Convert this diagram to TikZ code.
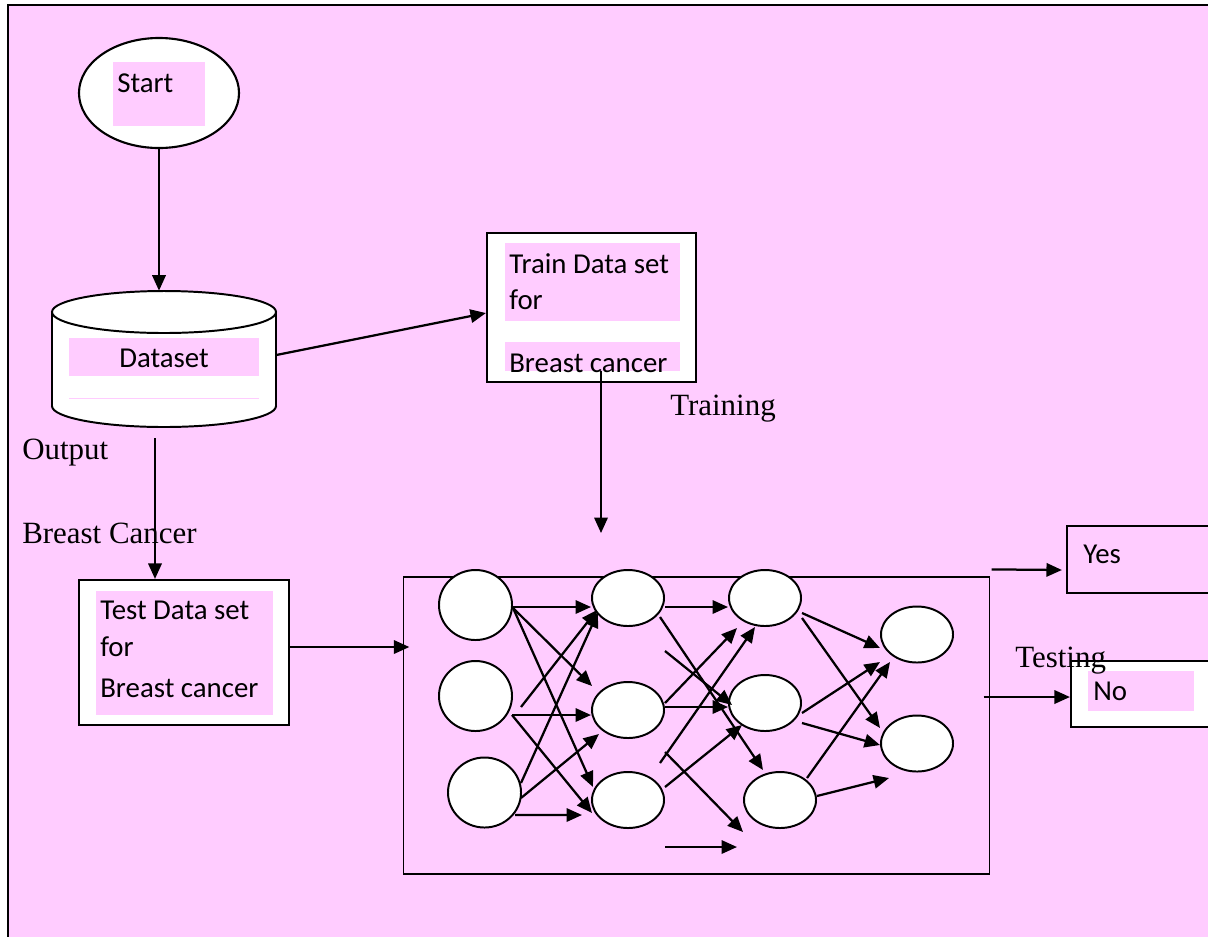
\documentclass[tikz,border=0pt]{standalone}
\usepackage{fontspec}
\setmainfont{Liberation Serif}
\newfontfamily\calfont{Carlito}
\usetikzlibrary{shapes.geometric,calc,arrows.meta,positioning}
\definecolor{pinkbg}{HTML}{FFCCFF}

\begin{document}
\begin{tikzpicture}[
    x=0.025cm, y=-0.025cm,
    >={Triangle[length=11pt,width=9.5pt]},
    conn/.style={->, line width=1.6pt},
    box/.style={draw, fill=white, line width=1.5pt, inner sep=0pt},
    blob/.style={draw, fill=white, line width=1.4pt, ellipse, inner sep=0pt,
        minimum width=1.8cm, minimum height=1.4cm},
    inblob/.style={blob, minimum width=1.825cm, minimum height=1.75cm},
    sans/.style={font=\calfont\fontsize{20.5}{24}\selectfont, anchor=base west, inner sep=0pt},
    serif/.style={font=\fontsize{22}{26}\selectfont, anchor=base west, inner sep=0pt}
]

% fond
\useasboundingbox (0,0) rectangle (1208,936);
\clip (0,0) rectangle (1208,936);
\fill[pinkbg] (8,5) rectangle (1210,938);
\draw[line width=1.3pt] (8,938) -- (8,5) -- (1210,5);

% start
\node[box, ellipse, minimum width=4cm, minimum height=2.75cm] (start) at (159,93) {};
\fill[pinkbg] (113,62) rectangle (205,126);
\node[sans] (tstart) at (117,92) {Start};

% dataset (cylindre)
\node[minimum width=5.6cm, minimum height=3.4cm, inner sep=0pt] (dataset) at (164,359) {};
\fill[white] (52,312) rectangle (276,406);
\fill[white] (164,406) ellipse [x radius=112, y radius=21];
\begin{scope}
  \clip (40,406) rectangle (290,440);
  \draw[line width=1.4pt] (164,406) ellipse [x radius=112, y radius=21];
\end{scope}
\draw[line width=1.4pt] (52,312) -- (52,406) (276,312) -- (276,406);
\draw[line width=1.4pt, fill=white] (164,312) ellipse [x radius=112, y radius=21];
\fill[pinkbg] (69,338) rectangle (259,376);
\draw[pinkbg, line width=0.6pt] (69,398) -- (259,398);
\node[sans] (tdata) at (119,367) {Dataset};

% train
\node[box, minimum width=5.225cm, minimum height=3.725cm] (train) at (591.5,307.5) {};
\fill[pinkbg] (505,243) rectangle (680,321);
\fill[pinkbg] (505,342) rectangle (680,371);
\node[sans] (ttrain1) at (509,273) {Train Data set};
\node[sans] (ttrain2) at (509,309) {for};
\node[sans] (ttrain3) at (509,372) {Breast cancer};

% test
\node[box, minimum width=5.25cm, minimum height=3.625cm] (test) at (184,652.5) {};
\fill[pinkbg] (96,591) rectangle (273,715);
\node[sans] (ttest1) at (100,619) {Test Data set};
\node[sans] (ttest2) at (100,656) {for};
\node[sans] (ttest3) at (100,697) {Breast cancer};

% labels
\node[serif] (output) at (22,459) {Output};
\node[serif] (bcancer) at (22,543) {Breast Cancer};
\node[serif] (training) at (670,415) {Training};

% reseau
\node[draw, line width=0.8pt, minimum width=14.625cm, minimum height=7.425cm, inner sep=0pt] (nnbox) at (696.5,725.5) {};
\node[inblob] (n11) at (475.5,605) {};
\node[inblob] (n12) at (475.5,696) {};
\node[inblob] (n13) at (484.5,792.5) {};
\node[blob] (n21) at (628,598) {};
\node[blob] (n22) at (628,710) {};
\node[blob] (n23) at (628,800) {};
\node[blob] (n31) at (765,598) {};
\node[blob] (n32) at (765,703) {};
\node[blob] (n33) at (780,800) {};
\node[blob] (n41) at (917,634.5) {};
\node[blob] (n42) at (917,743.5) {};

% sorties
\node[draw, line width=1.5pt, minimum width=4cm, minimum height=1.675cm, inner sep=0pt] (yes) at (1147,559.5) {};
\node[sans] (tyes) at (1083,563) {Yes};
\node[box, minimum width=3.975cm, minimum height=1.65cm] (no) at (1150.5,694) {};
\fill[pinkbg] (1088,671) rectangle (1194,711);
\node[sans] (tno) at (1093,700) {No};
\node[serif] (testing) at (1015,667) {Testing};

% flèches principales
\draw[conn] (start.south) -- (start.south |- dataset.north);
\draw[conn] ($(dataset.east)+(0,-4)$) -- (train.183);
\draw[conn] ($(train.south)+(9.5,-12)$) -- ($(train.south)+(9.5,150)$);
\draw[conn] ($(dataset.south)+(-9,11)$) -- ($(test.north)+(-29,0)$);
\draw[conn] ($(test.east)+(0,-5.5)$) -- ($(nnbox.west |- test.east)+(6,-5.5)$);
\draw[conn] ($(nnbox.north east)+(2,-7)$) -- ($(yes.west)+(-4,10.5)$);
\draw[conn] ($(nnbox.east |- no.west)+(-6,3)$) -- ($(no.west)+(0,3)$);

% couche 1 -> couche 2
\draw[conn] ($(n11)+(36.5,2)$) -- ($(n21)+(-37,9)$);
\draw[conn] ($(n11)+(36.5,2)$) -- ($(n22)+(-36,-24)$);
\draw[conn] ($(n11)+(38,4)$) -- ($(n23)+(-35,-13)$);
\draw[conn] ($(n12)+(36.5,19)$) -- ($(n22)+(-37,5)$);
\draw[conn] ($(n12)+(36.5,19)$) -- ($(n23)+(-36,13)$);
\draw[conn] ($(n12)+(45.5,11)$) -- ($(n21)+(-31,12)$);
\draw[conn] ($(n13)+(36.5,-9.5)$) -- ($(n21)+(-30,14)$);
\draw[conn] ($(n13)+(36.5,5.5)$) -- ($(n22)+(-29,24)$);
\draw[conn] ($(n13)+(30.5,22.5)$) -- ($(n23)+(-46,15)$);

% couche 2 -> couche 3
\draw[conn] ($(n21)+(37,9)$) -- ($(n31)+(-37,9)$);
\draw[conn] ($(n21)+(32,19)$) -- ($(n33)+(-17,-30)$);
\draw[conn] ($(n22)+(37,-59)$) -- ($(n32)+(-33,2)$);
\draw[conn] ($(n22)+(37,-3)$) -- ($(n32)+(-37,4)$);
\draw[conn] ($(n22)+(37,-7)$) -- ($(n31)+(-28,30)$);
\draw[conn] ($(n23)+(32,-37)$) -- ($(n31)+(-10,29)$);
\draw[conn] ($(n23)+(37,-13)$) -- ($(n32)+(-23,22)$);
\draw[conn] ($(n22)+(37,42)$) -- ($(n33)+(-37,32)$);
\draw[conn] ($(n23)+(37,47)$) -- ($(n33)+(-43,47)$);

% couche 3 -> couche 4
\draw[conn] ($(n31)+(37,15)$) -- ($(n41)+(-37,13.5)$);
\draw[conn] ($(n31)+(37,20)$) -- ($(n42)+(-37,-15.5)$);
\draw[conn] ($(n32)+(37,10)$) -- ($(n41)+(-37,27.5)$);
\draw[conn] ($(n32)+(37,20)$) -- ($(n42)+(-37,1.5)$);
\draw[conn] ($(n33)+(27,-22)$) -- ($(n41)+(-27,27.5)$);
\draw[conn] ($(n33)+(37,-4)$) -- ($(n42)+(-28,34.5)$);

\end{tikzpicture}
\end{document}
